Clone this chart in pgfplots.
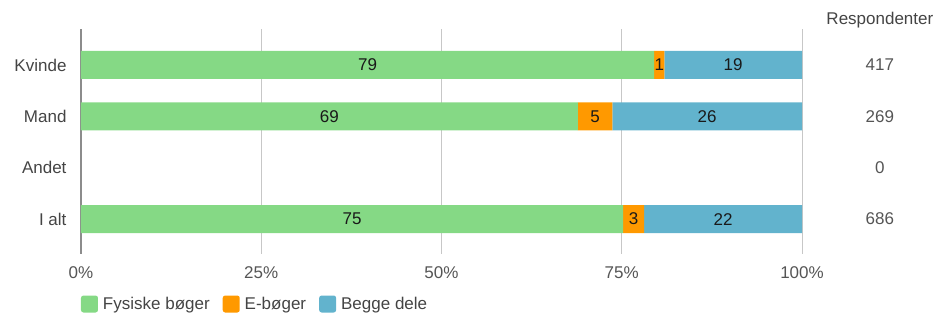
\documentclass[border=0pt]{standalone}
\usepackage{pgfplots}
\pgfplotsset{compat=1.18}
\usepackage{fontspec}
\setmainfont{Liberation Sans}
\definecolor{cgreen}{HTML}{85D985}
\definecolor{corange}{HTML}{FF9900}
\definecolor{cblue}{HTML}{62B3CD}
\definecolor{ctext}{HTML}{444444}
\definecolor{ctick}{HTML}{555555}
\newcommand{\cf}{\fontsize{17}{20}\selectfont}
\pgfplotsset{frame/.style={at={(81pt,63pt)}, anchor=south west, scale only axis,
  width=721pt, height=225pt, y dir=reverse,
  xmin=0, xmax=100, ymin=-0.7, ymax=3.68, clip=false}}
\begin{document}
\begin{tikzpicture}[x=1pt,y=1pt]
\useasboundingbox (0,0) rectangle (950,317);
\begin{axis}[frame,
  xbar stacked, bar width=28pt,
  ytick={0,1,2,3}, yticklabels={Kvinde,Mand,Andet,I alt},
  xtick={25,50,75,100}, xticklabels={25\%,50\%,75\%,100\%},
  extra x ticks={0}, extra x tick labels={0\%},
  extra x tick style={grid style={draw=black!45, line width=1.6pt}},
  xmajorgrids, grid style={draw=black!22, line width=0.8pt},
  axis line style={draw=none}, major tick length=0pt, tick style={draw=none},
  tick label style={font=\cf, text=ctick},
  yticklabel style={text=ctext, xshift=-11pt},
  xticklabel style={yshift=-9pt},
  legend style={at={(0,-0.2222)}, anchor=west, legend columns=-1, draw=none, fill=none,
    inner sep=0pt, outer sep=0pt, font=\cf, text=ctext,
    nodes={inner xsep=5pt, inner ysep=0pt},
    /tikz/every even column/.append style={column sep=8pt}},
  legend cell align=left,
]
\addplot[fill=cgreen, draw=none, legend image code/.code={\fill[cgreen, rounded corners=2.5pt] (0pt,-8.5pt) rectangle (17pt,8.5pt);}]
  coordinates {(79.5,0) (68.9,1) (0,2) (75.2,3)};
\addlegendentry{Fysiske bøger}
\addplot[fill=corange, draw=none, legend image code/.code={\fill[corange, rounded corners=2.5pt] (0pt,-8.5pt) rectangle (17pt,8.5pt);}]
  coordinates {(1.4,0) (4.8,1) (0,2) (2.9,3)};
\addlegendentry{E-bøger}
\addplot[fill=cblue, draw=none, legend image code/.code={\fill[cblue, rounded corners=2.5pt] (0pt,-8.5pt) rectangle (17pt,8.5pt);}]
  coordinates {(19.1,0) (26.3,1) (0,2) (21.9,3)};
\addlegendentry{Begge dele}
\end{axis}
\begin{axis}[frame, hide axis]
\addplot[only marks, mark=none,
  nodes near coords, point meta=explicit symbolic,
  every node near coord/.append style={font=\cf, text=black!90, anchor=center}]
  table[meta=l] {
x y l
39.75 0 79
80.2 0 1
90.45 0 19
34.45 1 69
71.3 1 5
86.85 1 26
37.6 3 75
76.65 3 3
89.05 3 22
};
\addplot[only marks, mark=none,
  nodes near coords, point meta=explicit symbolic,
  every node near coord/.append style={font=\cf, text=ctick, anchor=center}]
  table[meta=l] {
x y l
110.8 0 417
110.8 1 269
110.8 2 0
110.8 3 686
};
\node[font=\cf, text=ctext, anchor=center] at (axis cs:110.8,-0.88) {Respondenter};
\end{axis}
\end{tikzpicture}
\end{document}
